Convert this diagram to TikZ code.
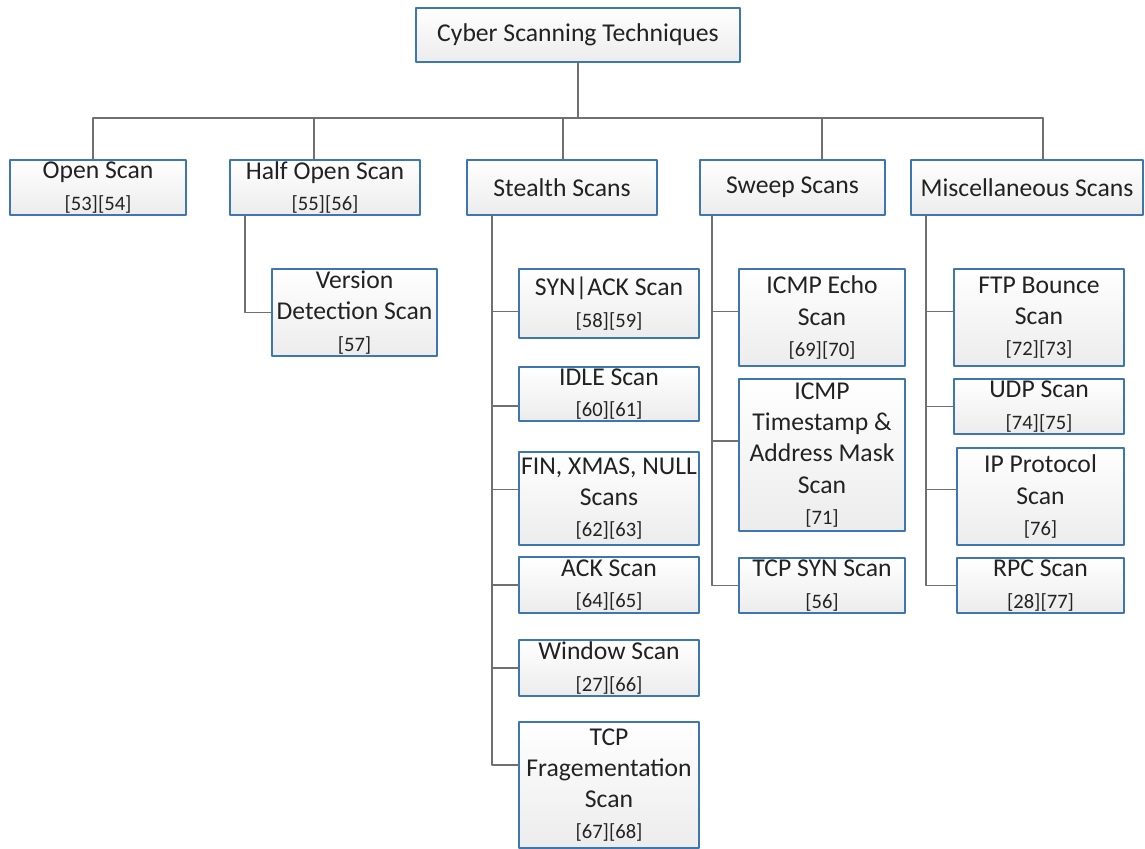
\documentclass[tikz,border=0pt]{standalone}
\usepackage{fontspec}
\setmainfont{Carlito}
\usetikzlibrary{calc}
\definecolor{boxblue}{RGB}{62,118,176}
\definecolor{boxgray}{RGB}{236,236,236}
\definecolor{linkgray}{RGB}{112,112,112}
\definecolor{txtgray}{RGB}{34,34,34}
\newcommand{\scanref}[1]{{\fontsize{11.7}{14}\selectfont #1}}
\tikzset{
  box/.style={draw=boxblue,line width=1.1pt,top color=white,bottom color=boxgray,
    inner sep=0pt,align=center,text=txtgray,font=\fontsize{14.6}{17.8}\selectfont},
  link/.style={draw=linkgray,line width=0.8pt}
}
\begin{document}
\begin{tikzpicture}[x=0.02cm,y=-0.02cm,line cap=round,line join=round]
	\useasboundingbox (0,0) rectangle (1145,848);
	% top level
	\node[box,minimum width=6.48cm,minimum height=1.08cm] (root) at (578,35) {Cyber Scanning Techniques};
	\node[box,minimum width=3.52cm,minimum height=1.1cm] (open) at (98,187.5) {Open Scan\\\scanref{[53][54]}};
	\node[box,minimum width=3.8cm,minimum height=1.1cm] (half) at (325,187.5) {Half Open Scan\\\scanref{[55][56]}};
	\node[box,minimum width=3.8cm,minimum height=1.1cm] (stealth) at (562,187.5) {Stealth Scans};
	\node[box,minimum width=3.7cm,minimum height=1.1cm] (sweep) at (792.5,187.5) {Sweep Scans};
	\node[box,minimum width=4.64cm,minimum height=1.1cm] (misc) at (1027,187.5) {Miscellaneous Scans};
	% half open
	\node[box,minimum width=3.3cm,minimum height=1.74cm] (version) at (354.5,312.5) {Version\\Detection Scan\\\scanref{[57]}};
	% stealth
	\node[box,minimum width=3.6cm,minimum height=1.38cm] (synack) at (609,303.5) {SYN|ACK Scan\\\scanref{[58][59]}};
	\node[box,minimum width=3.6cm,minimum height=1.08cm] (idle) at (609,394) {IDLE Scan\\\scanref{[60][61]}};
	\node[box,minimum width=3.6cm,minimum height=1.86cm] (fin) at (609,498.5) {FIN, XMAS, NULL\\Scans\\\scanref{[62][63]}};
	\node[box,minimum width=3.6cm,minimum height=1.12cm] (ack) at (609,585) {ACK Scan\\\scanref{[64][65]}};
	\node[box,minimum width=3.6cm,minimum height=1.12cm] (window) at (609,668) {Window Scan\\\scanref{[27][66]}};
	\node[box,minimum width=3.6cm,minimum height=2.52cm] (frag) at (609,785) {TCP\\Fragementation\\Scan\\\scanref{[67][68]}};
	% sweep
	\node[box,minimum width=3.32cm,minimum height=1.94cm] (echo) at (822,317.5) {ICMP Echo\\Scan\\\scanref{[69][70]}};
	\node[box,minimum width=3.32cm,minimum height=3.04cm] (stamp) at (822,455) {ICMP\\Timestamp \&\\Address Mask\\Scan\\\scanref{[71]}};
	\node[box,minimum width=3.32cm,minimum height=1.1cm] (tcpsyn) at (822,585.5) {TCP SYN Scan\\\scanref{[56]}};
	% misc
	\node[box,minimum width=3.4cm,minimum height=1.94cm] (ftp) at (1039,317.5) {FTP Bounce\\Scan\\\scanref{[72][73]}};
	\node[box,minimum width=3.4cm,minimum height=1.1cm] (udp) at (1039,406.5) {UDP Scan\\\scanref{[74][75]}};
	\node[box,minimum width=3.34cm,minimum height=1.94cm] (ipproto) at (1040.5,496.5) {IP Protocol\\Scan\\\scanref{[76]}};
	\node[box,minimum width=3.34cm,minimum height=1.1cm] (rpc) at (1040.5,585.5) {RPC Scan\\\scanref{[28][77]}};
	% bus
	\coordinate (d1) at (93,118);
	\coordinate (d2) at (314,118);
	\coordinate (d3) at (563,118);
	\coordinate (d4) at (822,118);
	\coordinate (d5) at (1043,118);
	\draw[link] (root.south) -- (root.south |- d1);
	\draw[link] (d1) -- (d5);
	\draw[link] (d1) -- (d1 |- open.north);
	\draw[link] (d2) -- (d2 |- half.north);
	\draw[link] (d3) -- (d3 |- stealth.north);
	\draw[link] (d4) -- (d4 |- sweep.north);
	\draw[link] (d5) -- (d5 |- misc.north);
	% spines
	\coordinate (s2) at (245,0);
	\coordinate (s3) at (492,0);
	\coordinate (s4) at (712,0);
	\coordinate (s5) at (926,0);
	\draw[link] (half.south -| s2) |- (version.west);
	\draw[link] (stealth.south -| s3) |- ($(synack.west)+(0,8)$);
	\draw[link] (stealth.south -| s3) |- ($(idle.west)+(0,12)$);
	\draw[link] (stealth.south -| s3) |- ($(fin.west)+(0,-9)$);
	\draw[link] (stealth.south -| s3) |- (ack.west);
	\draw[link] (stealth.south -| s3) |- (window.west);
	\draw[link] (stealth.south -| s3) |- ($(frag.west)+(0,-20)$);
	\draw[link] (sweep.south -| s4) |- ($(echo.west)+(0,-6)$);
	\draw[link] (sweep.south -| s4) |- ($(stamp.west)+(0,-14)$);
	\draw[link] (sweep.south -| s4) |- (tcpsyn.west);
	\draw[link] (misc.south -| s5) |- ($(ftp.west)+(0,-6)$);
	\draw[link] (misc.south -| s5) |- (udp.west);
	\draw[link] (misc.south -| s5) |- ($(ipproto.west)+(0,-7)$);
	\draw[link] (misc.south -| s5) |- (rpc.west);
\end{tikzpicture}
\end{document}
